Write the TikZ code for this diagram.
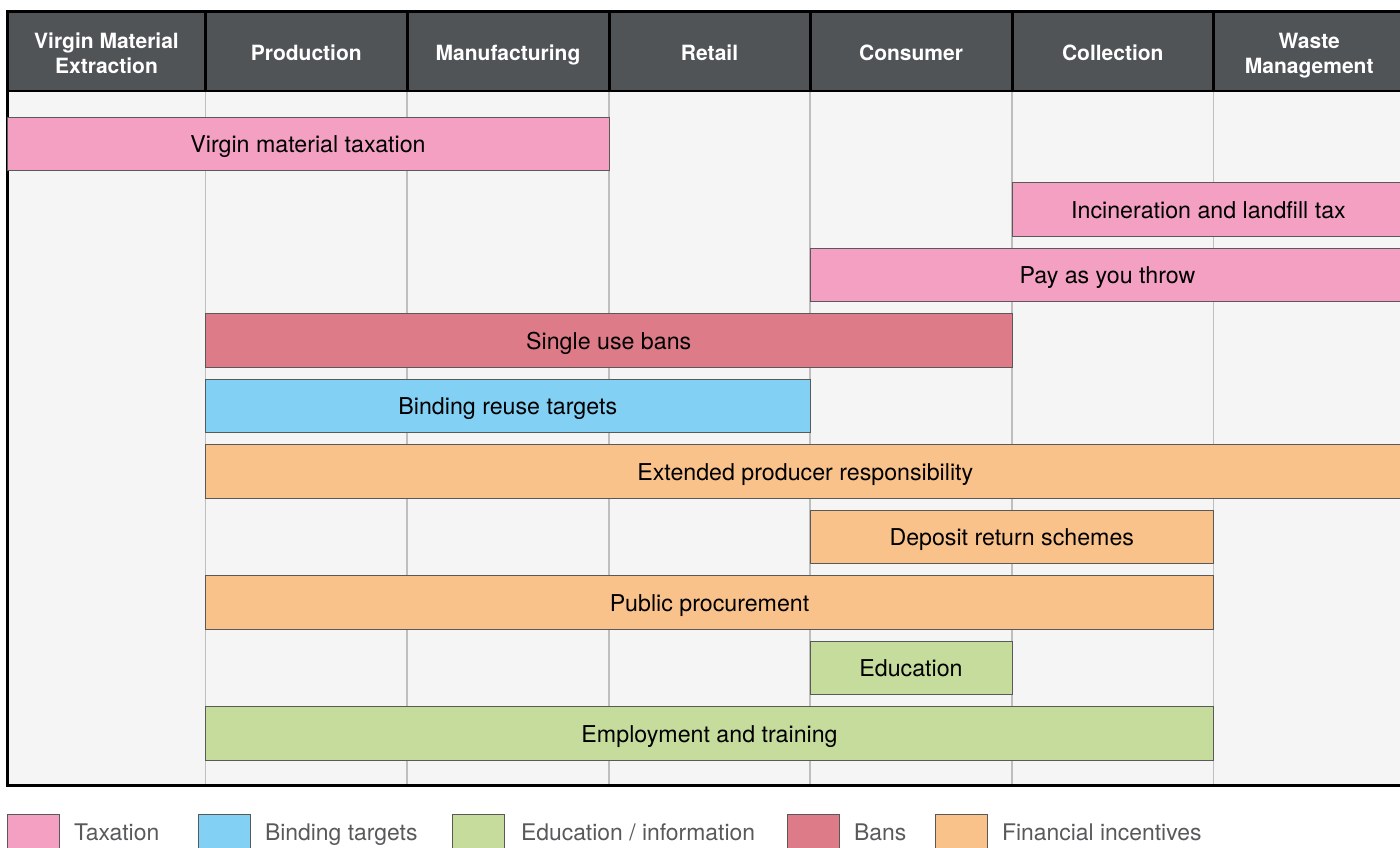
\documentclass[tikz,border=0pt]{standalone}
\usepackage{fontspec}
\setmainfont{TeX Gyre Heros}
\usetikzlibrary{positioning}

\definecolor{headgray}{HTML}{505457}
\definecolor{bodygray}{HTML}{F5F5F5}
\definecolor{gridgray}{HTML}{BEBEBE}
\definecolor{taxpink}{HTML}{F3A0C2}
\definecolor{banred}{HTML}{DD7B89}
\definecolor{targetblue}{HTML}{83D0F5}
\definecolor{edugreen}{HTML}{C6DC9C}
\definecolor{finorange}{HTML}{FAC28B}
\definecolor{keygray}{HTML}{58595B}

\begin{document}
\begin{tikzpicture}[x=0.5pt, y=-0.5pt,
        head/.style={text=white, align=center, text depth=0pt, yshift=-1pt,
            font=\fontsize{10.5}{12.5}\selectfont\bfseries},
        barlabel/.style={anchor=base, yshift=-4.4pt, font=\fontsize{11.6}{13.6}\selectfont},
        barbox/.style={draw=black!65, line width=0.5pt},
        tax/.style={barbox, fill=taxpink},
        ban/.style={barbox, fill=banred},
        target/.style={barbox, fill=targetblue},
        edu/.style={barbox, fill=edugreen},
        fin/.style={barbox, fill=finorange},
        keytext/.style={anchor=base west, text=keygray, font=\fontsize{11.45}{13.5}\selectfont}]
        \useasboundingbox (0,0) rectangle (1400,847);
        \clip (0,0) rectangle (1400,847);

        % table body and header
        \fill[bodygray] (7.5,91) rectangle (1405,785);
        \fill[headgray] (7.5,11.5) rectangle (1405,91);

        % columns: header text and grid lines
        \foreach \l/\r/\nm/\lbl in {7.5/205.5/vme/{Virgin Material\\Extraction},
                205.5/407/prod/Production, 407/609/manu/Manufacturing,
                609/810/retail/Retail, 810/1012/cons/Consumer,
                1012/1213.5/coll/Collection, 1213.5/1405/waste/{Waste\\Management}} {
            \node[head] (\nm) at ({(\l+\r)/2},51) {\lbl};
            \draw[gridgray, line width=0.6pt] (\r,91) -- (\r,785);
            \draw[black, line width=1.5pt] (\r,11.5) -- (\r,91);
        }
        \draw[black, line width=1pt] (7.5,91) -- (1405,91);
        \draw[black, line width=1.5pt] (7.5,11.5) rectangle (1405,785);

        % taxation
        \draw[tax] (7.5,117) rectangle (609,170.5);
        \node[barlabel] (vmt) at (308,143.75) {Virgin material taxation};
        \draw[tax] (1012,182.5) rectangle (1405,236);
        \node[barlabel] (landfill) at (1208.5,209.25) {Incineration and landfill tax};
        \draw[tax] (810,248) rectangle (1405,301.5);
        \node[barlabel] (payt) at (1107.5,274.75) {Pay as you throw};

        % bans
        \draw[ban] (205.5,313.5) rectangle (1012,367);
        \node[barlabel] (singleuse) at (608.75,340.25) {Single use bans};

        % binding targets
        \draw[target] (205.5,379) rectangle (810,432.5);
        \node[barlabel] (reuse) at (507.75,405.75) {Binding reuse targets};

        % financial incentives
        \draw[fin] (205.5,444.5) rectangle (1405,498);
        \node[barlabel] (epr) at (805.25,471.25) {Extended producer responsibility};
        \draw[fin] (810,510) rectangle (1213.5,563.5);
        \node[barlabel] (deposit) at (1011.75,536.75) {Deposit return schemes};
        \draw[fin] (205.5,575.5) rectangle (1213.5,629);
        \node[barlabel] (procure) at (709.5,602.25) {Public procurement};

        % education / information
        \draw[edu] (810,641) rectangle (1012,694.5);
        \node[barlabel] (educ) at (911,667.75) {Education};
        \draw[edu] (205.5,706.5) rectangle (1213.5,760);
        \node[barlabel] (training) at (709.5,733.25) {Employment and training};

        % legend
        \draw[tax] (7,814) rectangle (59,866);
        \node[keytext] (ktax) at (67,840.5) {Taxation};
        \draw[target] (198,814) rectangle (250,866);
        \node[keytext] (ktarget) at (258,840.5) {Binding targets};
        \draw[edu] (452,814) rectangle (504,866);
        \node[keytext] (kedu) at (514,840.5) {Education / information};
        \draw[ban] (787,814) rectangle (839,866);
        \node[keytext] (kban) at (847,840.5) {Bans};
        \draw[fin] (935,814) rectangle (987,866);
        \node[keytext] (kfin) at (995,840.5) {Financial incentives};

    \end{tikzpicture}
\end{document}
